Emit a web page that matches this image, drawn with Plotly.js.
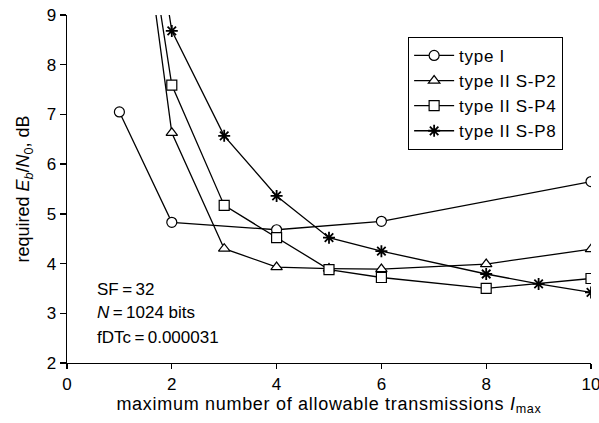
<!DOCTYPE html>
<html>
<head>
<meta charset="utf-8">
<script src="https://cdn.plot.ly/plotly-3.0.1.min.js"></script>
<style>
html,body{margin:0;padding:0;background:#fff}
.legendtext, .xtitle { letter-spacing: 0.7px; }
</style>
</head>
<body>
<div id="chart" style="width:599px;height:423px"></div>
<script>
const seriesNames = ["type I", "type II S-P2", "type II S-P4", "type II S-P8"];
const xTypeI = [1, 2, 4, 6, 10];
const yTypeI = [7.05, 4.83, 4.68, 4.85, 5.65];
const xSP2 = [1, 2, 3, 4, 5, 6, 8, 10];
const ySP2 = [14.5, 6.63, 4.30, 3.93, 3.90, 3.89, 3.99, 4.29];
const xSP4 = [1, 2, 3, 4, 5, 6, 8, 10];
const ySP4 = [14.4, 7.59, 5.17, 4.52, 3.88, 3.72, 3.50, 3.70];
const xSP8 = [1, 2, 3, 4, 5, 6, 8, 9, 10];
const ySP8 = [15.4, 8.68, 6.57, 5.36, 4.52, 4.25, 3.79, 3.59, 3.42];
const xTicks = [0, 2, 4, 6, 8, 10];
const yTicks = [2, 3, 4, 5, 6, 7, 8, 9];
const noteLines = ["SF\u2009=\u200932", "<i>N</i>\u2009=\u20091024 bits", "fDTc\u2009=\u20090.000031"];
const noteY = [3.47, 3.01, 2.52];

const font = {family: "Liberation Sans, Arial, sans-serif", color: "#000"};
function f(size) { return Object.assign({size: size}, font); }
function mk(sym, size) {
  return {symbol: sym, size: size, color: "#fff", line: {color: "#000", width: 1.2}};
}
const traces = [
  {x: xTypeI, y: yTypeI, name: seriesNames[0], mode: "lines+markers", line: {color: "#000", width: 1.3}, marker: mk("circle", 10)},
  {x: xSP2, y: ySP2, name: seriesNames[1], mode: "lines+markers", line: {color: "#000", width: 1.3}, marker: mk("triangle-up", 10)},
  {x: xSP4, y: ySP4, name: seriesNames[2], mode: "lines+markers", line: {color: "#000", width: 1.3}, marker: mk("square", 10)},
  {x: xSP8, y: ySP8, name: seriesNames[3], mode: "lines+markers", line: {color: "#000", width: 1.3}, marker: {symbol: "asterisk-open", size: 10, color: "#000", line: {color: "#000", width: 1.8}}}
];
const annotations = noteLines.map((t, i) => ({
  x: 0.53, y: noteY[i], xref: "x", yref: "y", text: t, showarrow: false,
  xanchor: "left", yanchor: "middle", font: f(17)
}));
const layout = {
  width: 599, height: 423,
  margin: {l: 67, r: 8, t: 15, b: 60},
  paper_bgcolor: "#fff", plot_bgcolor: "#fff",
  font: f(17),
  showlegend: true,
  legend: {x: 0.651, y: 0.937, xanchor: "left", yanchor: "top", bgcolor: "#fff",
    bordercolor: "#000", borderwidth: 1, font: f(17),
    tracegroupgap: 0, itemwidth: 40},
  xaxis: {range: [0, 10], tickvals: xTicks, ticks: "outside", ticklen: 5, tickwidth: 1.3, tickcolor: "#000",
    showline: true, linecolor: "#000", linewidth: 1.3, showgrid: false, zeroline: false, mirror: false,
    tickfont: f(17), ticklabeloverflow: "allow",
    title: {text: "maximum number of allowable transmissions <i>I</i><sub>max</sub>", font: f(18), standoff: 3}},
  yaxis: {range: [2, 9], tickvals: yTicks, ticks: "outside", ticklen: 6, tickwidth: 1.3, tickcolor: "#000",
    showline: true, linecolor: "#000", linewidth: 1.3, showgrid: false, zeroline: false,
    tickfont: f(17),
    title: {text: "required <i>E<sub>b</sub></i>/<i>N</i><sub>0</sub>, dB", font: f(18), standoff: 12}},
  annotations: annotations
};
Plotly.newPlot("chart", traces, layout, {displayModeBar: false, staticPlot: true});
</script>
</body>
</html>
